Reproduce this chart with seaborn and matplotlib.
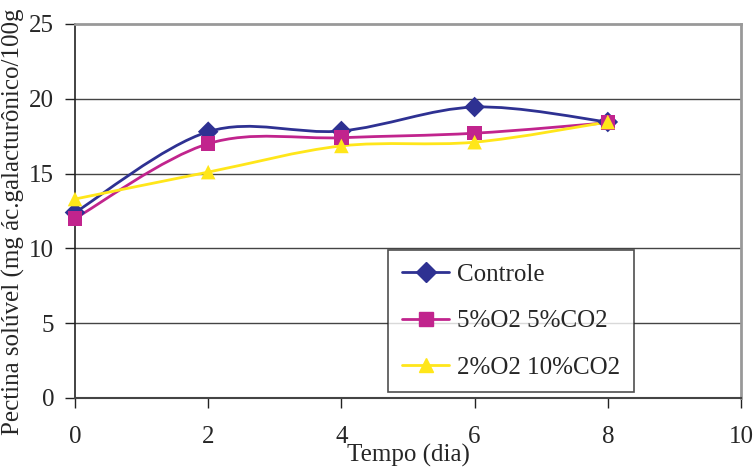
import numpy as np
import pandas as pd
import matplotlib
matplotlib.use("Agg")
import matplotlib.pyplot as plt
from matplotlib.path import Path
from matplotlib.patches import PathPatch
from matplotlib.lines import Line2D
import seaborn as sns

days = [0, 2, 4, 6, 8]
controle = [12.4, 17.8, 17.85, 19.45, 18.45]
o5_co5 = [12.0, 17.0, 17.4, 17.7, 18.4]
o2_co10 = [13.3, 15.1, 16.85, 17.1, 18.45]
series_names = ["Controle", "5%O2 5%CO2", "2%O2 10%CO2"]
colors = ["#2E3192", "#C1248D", "#FFE61A"]
markers = ["D", "s", "^"]
xticks = [0, 2, 4, 6, 8, 10]
yticks = [0, 5, 10, 15, 20, 25]

df = pd.DataFrame({"Tempo": days * 3,
                   "valor": controle + o5_co5 + o2_co10,
                   "serie": sum([[n] * len(days) for n in series_names], [])})

sns.set_theme(style="white")
plt.rcParams['font.family'] = ['Liberation Serif', 'DejaVu Serif']

FS = 18
fig = plt.figure(figsize=(7.55, 4.74), dpi=100)
ax = fig.add_axes([75 / 755, 1 - 398 / 474, (741 - 75) / 755, (398 - 24) / 474])


def smooth_path(xs, ys):
    # Excel-like smoothed line: cubic Bezier segments through the data points
    pts = np.column_stack([xs, ys]).astype(float)
    n = len(pts)
    verts = [pts[0]]
    codes = [Path.MOVETO]
    for i in range(n - 1):
        p0 = pts[i - 1] if i > 0 else pts[i]
        p1 = pts[i]
        p2 = pts[i + 1]
        p3 = pts[i + 2] if i + 2 < n else pts[i + 1]
        c1 = p1 + (p2 - p0) / 6.0
        c2 = p2 - (p3 - p1) / 6.0
        verts += [c1, c2, p2]
        codes += [Path.CURVE4] * 3
    return Path(verts, codes)


for name, col, mk in zip(series_names, colors, markers):
    sub = df[df["serie"] == name]
    ax.add_patch(PathPatch(smooth_path(sub["Tempo"].values, sub["valor"].values),
                           facecolor="none", edgecolor=col, lw=2.0, zorder=3,
                           clip_on=False))

sns.scatterplot(data=df, x="Tempo", y="valor", hue="serie", style="serie",
                palette=dict(zip(series_names, colors)),
                markers=dict(zip(series_names, markers)),
                s=110, edgecolor="none", ax=ax, zorder=4, legend=False,
                clip_on=False)

ax.set_xlim(0, 10)
ax.set_ylim(0, 25)
ax.set_xticks(xticks)
ax.set_yticks(yticks)
ax.tick_params(axis="both", direction="out", length=7, width=1, color="#222222",
               labelsize=FS, pad=8, bottom=True, left=True)
ax.tick_params(axis="x", pad=13)
for y in yticks[1:-1]:
    ax.axhline(y, color="#444444", lw=1.0, zorder=1)
ax.spines["left"].set_color("#222222")
ax.spines["bottom"].set_color("#444444")
ax.spines["bottom"].set_linewidth(1.5)
ax.spines["top"].set_color("#999999")
ax.spines["right"].set_color("#999999")
ax.spines["top"].set_linewidth(2)
ax.spines["right"].set_linewidth(2)
ax.spines["left"].set_linewidth(1.2)

ax.set_xlabel("Tempo (dia)", fontsize=FS, labelpad=-3)
ax.set_ylabel("Pectina solúvel (mg ác.galacturônico/100g", fontsize=FS)
ax.yaxis.set_label_coords(-0.075, 0.47)

handles = [Line2D([0], [0], color=c, lw=2, marker=m, markersize=10, markeredgecolor=c)
           for c, m in zip(colors, markers)]
leg = ax.legend(handles, series_names, loc="upper left",
                bbox_to_anchor=((388 - 75) / 666, (398 - 250) / 374),
                frameon=True, fancybox=False, edgecolor="#222222", fontsize=FS,
                handlelength=1.9, labelspacing=0.95, borderpad=0.55,
                handletextpad=0.3, borderaxespad=0)
leg.get_frame().set_linewidth(1.2)
leg.set_zorder(5)

fig.savefig("out.png", dpi=100)
